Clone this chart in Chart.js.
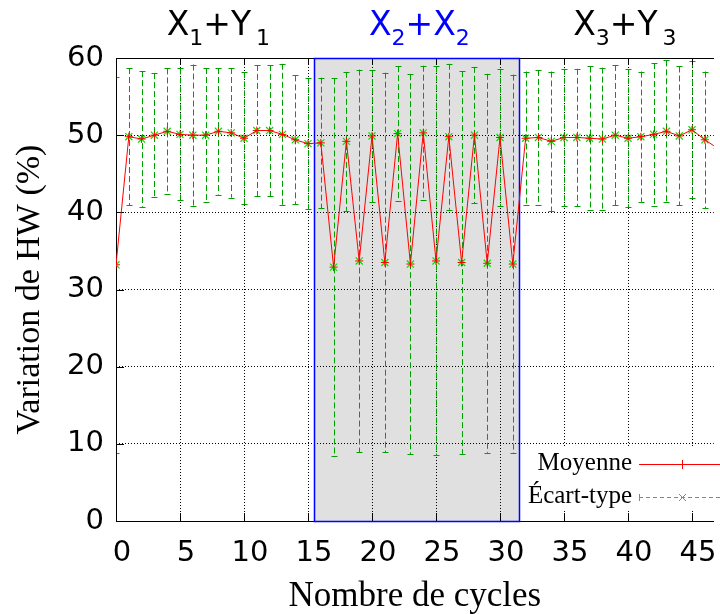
<!DOCTYPE html>
<html><head><meta charset="utf-8">
<script src="https://cdn.jsdelivr.net/npm/chart.js@4/dist/chart.umd.min.js"></script>
<style>html,body{margin:0;padding:0;background:#fff;overflow:hidden}#wrap{width:720px;height:614px;position:relative}</style>
</head><body><div id="wrap"><canvas id="c"></canvas></div>
<script>
// ---- data ----
const cycles = [0,1,2,3,4,5,6,7,8,9,10,11,12,13,14,15,16,17,18,19,20,21,22,23,24,25,26,27,28,29,30,31,32,33,34,35,36,37,38,39,40,41,42,43,44,45,46,47];
const moyenne = [33.2,49.8,49.5,50.0,50.5,50.1,50.0,50.0,50.5,50.3,49.6,50.6,50.6,50.1,49.4,48.9,
                 49.0,32.9,49.2,33.7,49.9,33.5,50.2,33.3,50.3,33.7,49.8,33.5,50.0,33.4,49.7,33.3,
                 49.6,49.7,49.2,49.7,49.7,49.6,49.5,50.0,49.6,49.8,50.1,50.5,49.9,50.7,49.4,48.3];
const ecartType = [24.4,8.9,8.8,8.05,8.15,8.55,9.15,8.7,8.2,8.4,8.55,8.5,8.5,9.15,8.35,8.5,
                   8.45,24.45,9.0,24.8,8.55,24.6,8.75,24.6,8.7,25.2,9.45,24.8,8.85,24.55,8.9,24.55,
                   8.65,8.75,9.05,8.9,8.9,9.3,9.25,9.1,8.95,8.45,9.25,9.2,9.0,8.85,8.85,8.8];
const xTicks = [0,5,10,15,20,25,30,35,40,45];
const yTicks = [0,10,20,30,40,50,60];
const xRange = [0, 46.7];
const yRange = [0, 60];
const shadedRange = [15.5, 31.5];
const groupNames = [['X','1','Y','1'], ['X','2','X','2'], ['X','3','Y','3']];
const groupCenters = [8.0, 23.7, 39.75];
const groupColors = ['#000000', '#0000ff', '#000000'];
const seriesNames = ['Moyenne', 'Écart-type'];
const axisTitles = {x: 'Nombre de cycles', y: 'Variation de HW (%)'};

const RED = '#ff0000', GREEN_BAR = '#00a000', GREEN_PT = '#00e000';
const SANS = '"DejaVu Sans", sans-serif';
const SERIF = '"Liberation Serif", "DejaVu Serif", serif';

function drawGroupLabel(ctx, parts, cx, color) {
  const big = '33px ' + SANS, small = '22px ' + SANS;
  const pieces = [
    {t: parts[0], f: big, dy: 0, gap: 0},
    {t: parts[1], f: small, dy: 10, gap: 0},
    {t: '+', f: big, dy: 0, gap: 0},
    {t: parts[2], f: big, dy: 0, gap: parts[2] === 'Y' ? 5 : 0},
    {t: parts[3], f: small, dy: 10, gap: 0}
  ];
  let total = 0;
  pieces.forEach(p => { ctx.font = p.f; p.w = ctx.measureText(p.t).width; total += p.w + p.gap; });
  let x = cx - total / 2;
  const base = 35;
  ctx.fillStyle = color; ctx.textBaseline = 'alphabetic'; ctx.textAlign = 'left';
  pieces.forEach(p => { ctx.font = p.f; ctx.fillText(p.t, x, base + p.dy); x += p.w + p.gap; });
}

const deco = {
  id: 'deco',
  beforeDraw(chart) {
    const {ctx, chartArea: a, scales: {x}} = chart;
    const x0 = x.getPixelForValue(shadedRange[0]), x1 = x.getPixelForValue(shadedRange[1]);
    ctx.save();
    ctx.fillStyle = '#e0e0e0';
    ctx.fillRect(x0, a.top, x1 - x0, a.bottom - a.top);
    ctx.restore();
  },
  beforeDatasetsDraw(chart) {
    const {ctx, chartArea: a, scales: {x, y}} = chart;
    // error bars (clipped to the plot area)
    ctx.save();
    ctx.beginPath();
    ctx.rect(a.left, a.top, a.right - a.left, a.bottom - a.top);
    ctx.clip();
    ctx.strokeStyle = GREEN_BAR; ctx.lineWidth = 1;
    cycles.forEach((c, i) => {
      const px = Math.round(x.getPixelForValue(c)) + 0.5;
      const yt = y.getPixelForValue(moyenne[i] + ecartType[i]);
      const yb = y.getPixelForValue(moyenne[i] - ecartType[i]);
      ctx.setLineDash([6, 3]);
      ctx.beginPath(); ctx.moveTo(px, yt); ctx.lineTo(px, yb); ctx.stroke();
      ctx.setLineDash([]);
      ctx.beginPath();
      ctx.moveTo(px - 3, Math.round(yt) + 0.5); ctx.lineTo(px + 3, Math.round(yt) + 0.5);
      ctx.moveTo(px - 3, Math.round(yb) + 0.5); ctx.lineTo(px + 3, Math.round(yb) + 0.5);
      ctx.stroke();
    });
    ctx.restore();

    ctx.save();
    // borders
    ctx.strokeStyle = '#000'; ctx.lineWidth = 1; ctx.setLineDash([]);
    ctx.beginPath();
    ctx.moveTo(Math.round(a.left) + 0.5, a.top); ctx.lineTo(Math.round(a.left) + 0.5, a.bottom + 1);
    ctx.moveTo(a.left, Math.round(a.top) + 0.5); ctx.lineTo(a.right, Math.round(a.top) + 0.5);
    ctx.moveTo(a.left, Math.round(a.bottom) + 0.5); ctx.lineTo(a.right, Math.round(a.bottom) + 0.5);
    ctx.stroke();
    // inward tick marks
    ctx.beginPath();
    xTicks.forEach(v => {
      const px = Math.round(x.getPixelForValue(v)) + 0.5;
      ctx.moveTo(px, a.bottom); ctx.lineTo(px, a.bottom - 8);
      ctx.moveTo(px, a.top); ctx.lineTo(px, a.top + 7);
    });
    yTicks.forEach(v => {
      const py = Math.round(y.getPixelForValue(v)) + 0.5;
      ctx.moveTo(a.left, py); ctx.lineTo(a.left + 8, py);
    });
    ctx.stroke();
    // shaded box border
    const x0 = Math.round(x.getPixelForValue(shadedRange[0])) + 0.5;
    const x1 = Math.round(x.getPixelForValue(shadedRange[1])) + 0.5;
    ctx.strokeStyle = '#0000ff'; ctx.lineWidth = 1.5;
    ctx.strokeRect(x0, Math.round(a.top) + 0.5, x1 - x0, Math.round(a.bottom) - Math.round(a.top));
    ctx.restore();
  },
  afterDraw(chart) {
    const {ctx, scales: {x}} = chart;
    ctx.save();
    // group labels
    groupNames.forEach((g, i) => drawGroupLabel(ctx, g, x.getPixelForValue(groupCenters[i]), groupColors[i]));
    // legend (opaque key)
    ctx.fillStyle = '#fff';
    ctx.fillRect(528, 447, 192, 64);
    ctx.font = '25px ' + SERIF; ctx.fillStyle = '#000';
    ctx.textAlign = 'right'; ctx.textBaseline = 'alphabetic';
    ctx.fillText(seriesNames[0], 632, 470);
    ctx.fillText(seriesNames[1], 632, 503);
    // sample: Moyenne
    ctx.strokeStyle = RED; ctx.lineWidth = 1; ctx.setLineDash([]);
    ctx.beginPath(); ctx.moveTo(639, 464.5); ctx.lineTo(720, 464.5);
    ctx.moveTo(682.5, 460); ctx.lineTo(682.5, 469); ctx.stroke();
    // sample: Écart-type
    ctx.strokeStyle = '#30c030';
    ctx.setLineDash([4, 3]);
    ctx.beginPath(); ctx.moveTo(639, 497.5); ctx.lineTo(720, 497.5); ctx.stroke();
    ctx.setLineDash([]);
    ctx.beginPath(); ctx.moveTo(639.5, 494); ctx.lineTo(639.5, 501); ctx.stroke();
    ctx.strokeStyle = GREEN_PT;
    ctx.beginPath(); ctx.moveTo(679, 494); ctx.lineTo(686, 501); ctx.moveTo(686, 494); ctx.lineTo(679, 501); ctx.stroke();
    ctx.restore();
  }
};

const pts = cycles.map((c, i) => ({x: c, y: moyenne[i]}));

new Chart(document.getElementById('c'), {
  type: 'line',
  data: {
    datasets: [
      {label: seriesNames[0], data: pts, borderColor: RED, backgroundColor: RED, borderWidth: 1,
       tension: 0, pointStyle: 'cross', pointRadius: 4, pointBorderColor: RED, pointBorderWidth: 1, fill: false},
      {label: seriesNames[1], data: pts, showLine: false, pointStyle: 'crossRot', pointRadius: 5,
       pointBorderColor: GREEN_PT, pointBackgroundColor: GREEN_PT, pointBorderWidth: 1.2}
    ]
  },
  options: {
    responsive: true, maintainAspectRatio: false, animation: false, devicePixelRatio: 1,
    layout: {padding: {top: 58, left: 0, right: 0, bottom: 0}},
    plugins: {legend: {display: false}, tooltip: {enabled: false}},
    scales: {
      x: {
        type: 'linear', min: xRange[0], max: xRange[1],
        afterBuildTicks: s => { s.ticks = xTicks.map(v => ({value: v})); },
        afterFit: s => { s.height = 93; s.paddingLeft = 0; s.paddingRight = 0; },
        grid: {color: '#000', lineWidth: 1, drawTicks: false},
        border: {display: false, dash: [1, 2]},
        ticks: {font: {family: SANS, size: 29}, color: '#000', padding: 15, labelOffset: 6,
                maxRotation: 0, autoSkip: false, callback: v => String(v)},
        title: {display: true, text: axisTitles.x, color: '#000', font: {family: SERIF, size: 35, lineHeight: 1.0},
                padding: {top: 0, bottom: 0}}
      },
      y: {
        min: yRange[0], max: yRange[1],
        afterBuildTicks: s => { s.ticks = yTicks.map(v => ({value: v})); },
        afterFit: s => { s.width = 116; s.paddingTop = 0; s.paddingBottom = 0; },
        grid: {color: '#000', lineWidth: 1, drawTicks: false},
        border: {display: false, dash: [1, 2]},
        ticks: {font: {family: SANS, size: 29}, color: '#000', padding: 12, callback: v => String(v)},
        title: {display: true, text: axisTitles.y, color: '#000', font: {family: SERIF, size: 34},
                padding: {top: 10, bottom: 0}}
      }
    }
  },
  plugins: [deco]
});
</script></body></html>
